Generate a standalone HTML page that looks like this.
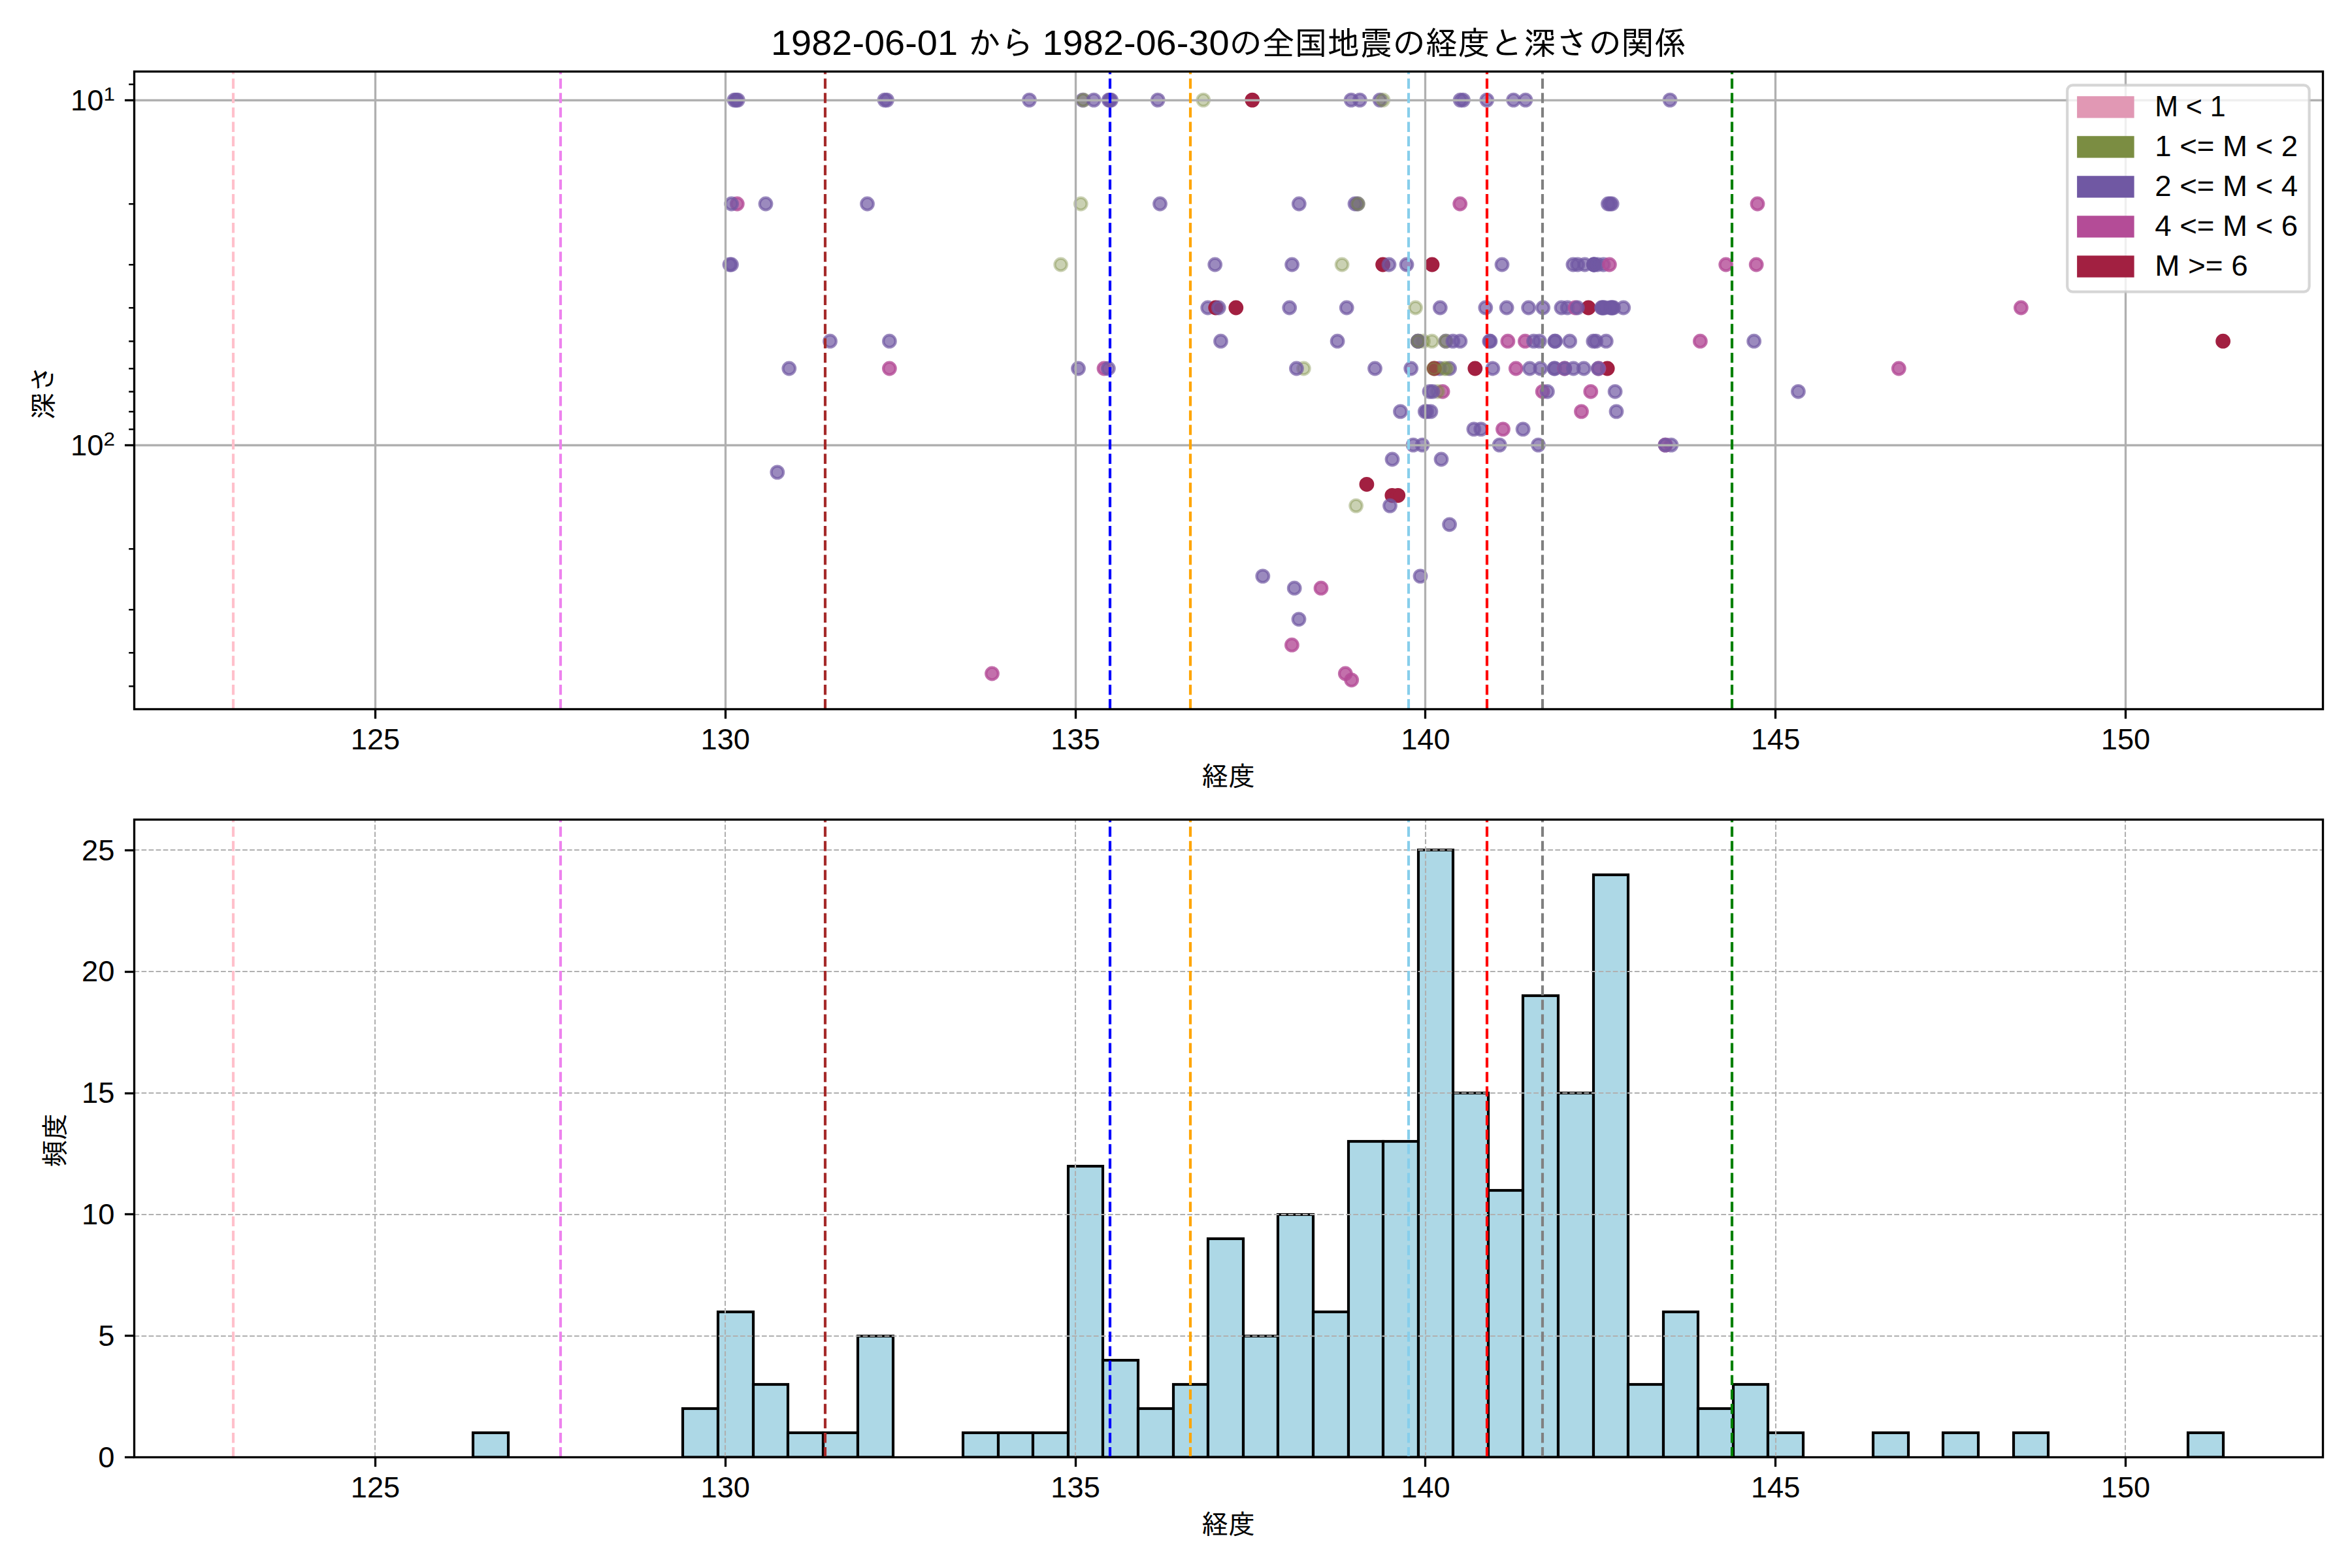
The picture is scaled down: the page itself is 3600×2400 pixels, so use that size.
<!DOCTYPE html>
<html lang="ja"><head><meta charset="utf-8"><title>全国地震の経度と深さの関係</title>
<style>html,body{margin:0;padding:0;background:#fff}svg{display:block}.l{font-family:"Liberation Sans","IPAGothic",sans-serif;fill:#000}.j{font-family:"Liberation Sans","IPAGothic","Noto Sans CJK JP",sans-serif;fill:#000}</style></head><body>
<svg width="3600" height="2400" viewBox="0 0 3600 2400">
<rect width="3600" height="2400" fill="#fff"/>
<clipPath id="c1"><rect x="205.5" y="109.5" width="3350.0" height="976.0"/></clipPath>
<clipPath id="c2"><rect x="205.5" y="1254.5" width="3350.0" height="976.0"/></clipPath>
<g clip-path="url(#c1)">
<g stroke-width="4.17">
<circle cx="1124.0" cy="153.1" r="9.32" fill="#7058a3" stroke="#7058a3" fill-opacity="0.7" stroke-opacity="0.7"/>
<circle cx="1126.7" cy="153.1" r="9.32" fill="#7058a3" stroke="#7058a3" fill-opacity="0.7" stroke-opacity="0.7"/>
<circle cx="1129.3" cy="153.1" r="9.32" fill="#7058a3" stroke="#7058a3" fill-opacity="0.7" stroke-opacity="0.7"/>
<circle cx="1354.0" cy="153.1" r="9.32" fill="#7058a3" stroke="#7058a3" fill-opacity="0.7" stroke-opacity="0.7"/>
<circle cx="1357.5" cy="153.1" r="9.32" fill="#7058a3" stroke="#7058a3" fill-opacity="0.7" stroke-opacity="0.7"/>
<circle cx="1575.5" cy="153.1" r="9.32" fill="#7058a3" stroke="#7058a3" fill-opacity="0.7" stroke-opacity="0.7"/>
<circle cx="1657.3" cy="153.1" r="9.32" fill="#7058a3" stroke="#7058a3" fill-opacity="0.7" stroke-opacity="0.7"/>
<circle cx="1658.6" cy="153.1" r="9.32" fill="#7b8d42" stroke="#7b8d42" fill-opacity="0.4" stroke-opacity="0.4"/>
<circle cx="1674.2" cy="153.1" r="9.32" fill="#7058a3" stroke="#7058a3" fill-opacity="0.7" stroke-opacity="0.7"/>
<circle cx="1697.2" cy="153.1" r="9.32" fill="#7058a3" stroke="#7058a3" fill-opacity="0.7" stroke-opacity="0.7"/>
<circle cx="1698.8" cy="153.1" r="9.32" fill="#7058a3" stroke="#7058a3" fill-opacity="0.7" stroke-opacity="0.7"/>
<circle cx="1700.6" cy="153.1" r="9.32" fill="#7058a3" stroke="#7058a3" fill-opacity="0.7" stroke-opacity="0.7"/>
<circle cx="1772.2" cy="153.1" r="9.32" fill="#7058a3" stroke="#7058a3" fill-opacity="0.7" stroke-opacity="0.7"/>
<circle cx="1841.8" cy="153.1" r="9.32" fill="#7b8d42" stroke="#7b8d42" fill-opacity="0.4" stroke-opacity="0.4"/>
<circle cx="1916.8" cy="153.1" r="9.32" fill="#a22041" stroke="#a22041" fill-opacity="1.0" stroke-opacity="1.0"/>
<circle cx="2068.1" cy="153.1" r="9.32" fill="#7058a3" stroke="#7058a3" fill-opacity="0.7" stroke-opacity="0.7"/>
<circle cx="2081.4" cy="153.1" r="9.32" fill="#7058a3" stroke="#7058a3" fill-opacity="0.7" stroke-opacity="0.7"/>
<circle cx="2112.1" cy="153.1" r="9.32" fill="#7058a3" stroke="#7058a3" fill-opacity="0.7" stroke-opacity="0.7"/>
<circle cx="2116.9" cy="153.1" r="9.32" fill="#7b8d42" stroke="#7b8d42" fill-opacity="0.4" stroke-opacity="0.4"/>
<circle cx="2235.1" cy="153.1" r="9.32" fill="#7058a3" stroke="#7058a3" fill-opacity="0.7" stroke-opacity="0.7"/>
<circle cx="2239.5" cy="153.1" r="9.32" fill="#7058a3" stroke="#7058a3" fill-opacity="0.7" stroke-opacity="0.7"/>
<circle cx="2275.8" cy="153.1" r="9.32" fill="#7058a3" stroke="#7058a3" fill-opacity="0.7" stroke-opacity="0.7"/>
<circle cx="2316.6" cy="153.1" r="9.32" fill="#7058a3" stroke="#7058a3" fill-opacity="0.7" stroke-opacity="0.7"/>
<circle cx="2335.0" cy="153.1" r="9.32" fill="#7058a3" stroke="#7058a3" fill-opacity="0.7" stroke-opacity="0.7"/>
<circle cx="2556.1" cy="153.1" r="9.32" fill="#7058a3" stroke="#7058a3" fill-opacity="0.7" stroke-opacity="0.7"/>
<circle cx="1128.3" cy="312.0" r="9.32" fill="#b44c97" stroke="#b44c97" fill-opacity="0.8" stroke-opacity="0.8"/>
<circle cx="1119.6" cy="312.0" r="9.32" fill="#7058a3" stroke="#7058a3" fill-opacity="0.7" stroke-opacity="0.7"/>
<circle cx="1172.0" cy="312.0" r="9.32" fill="#7058a3" stroke="#7058a3" fill-opacity="0.7" stroke-opacity="0.7"/>
<circle cx="1327.5" cy="312.0" r="9.32" fill="#7058a3" stroke="#7058a3" fill-opacity="0.7" stroke-opacity="0.7"/>
<circle cx="1654.3" cy="312.0" r="9.32" fill="#7b8d42" stroke="#7b8d42" fill-opacity="0.4" stroke-opacity="0.4"/>
<circle cx="1775.5" cy="312.0" r="9.32" fill="#7058a3" stroke="#7058a3" fill-opacity="0.7" stroke-opacity="0.7"/>
<circle cx="1988.3" cy="312.0" r="9.32" fill="#7058a3" stroke="#7058a3" fill-opacity="0.7" stroke-opacity="0.7"/>
<circle cx="2074.0" cy="312.0" r="9.32" fill="#7058a3" stroke="#7058a3" fill-opacity="0.7" stroke-opacity="0.7"/>
<circle cx="2078.0" cy="312.0" r="9.32" fill="#7058a3" stroke="#7058a3" fill-opacity="0.7" stroke-opacity="0.7"/>
<circle cx="2078.5" cy="312.0" r="9.32" fill="#7b8d42" stroke="#7b8d42" fill-opacity="0.4" stroke-opacity="0.4"/>
<circle cx="2234.7" cy="312.0" r="9.32" fill="#b44c97" stroke="#b44c97" fill-opacity="0.8" stroke-opacity="0.8"/>
<circle cx="2461.4" cy="312.0" r="9.32" fill="#7058a3" stroke="#7058a3" fill-opacity="0.7" stroke-opacity="0.7"/>
<circle cx="2464.3" cy="312.0" r="9.32" fill="#7058a3" stroke="#7058a3" fill-opacity="0.7" stroke-opacity="0.7"/>
<circle cx="2467.2" cy="312.0" r="9.32" fill="#7058a3" stroke="#7058a3" fill-opacity="0.7" stroke-opacity="0.7"/>
<circle cx="2690.0" cy="312.0" r="9.32" fill="#b44c97" stroke="#b44c97" fill-opacity="0.8" stroke-opacity="0.8"/>
<circle cx="1117.0" cy="405.0" r="9.32" fill="#7058a3" stroke="#7058a3" fill-opacity="0.7" stroke-opacity="0.7"/>
<circle cx="1119.5" cy="405.0" r="9.32" fill="#7058a3" stroke="#7058a3" fill-opacity="0.7" stroke-opacity="0.7"/>
<circle cx="1623.7" cy="405.0" r="9.32" fill="#7b8d42" stroke="#7b8d42" fill-opacity="0.4" stroke-opacity="0.4"/>
<circle cx="1859.7" cy="405.0" r="9.32" fill="#7058a3" stroke="#7058a3" fill-opacity="0.7" stroke-opacity="0.7"/>
<circle cx="1977.6" cy="405.0" r="9.32" fill="#7058a3" stroke="#7058a3" fill-opacity="0.7" stroke-opacity="0.7"/>
<circle cx="2054.1" cy="405.0" r="9.32" fill="#7b8d42" stroke="#7b8d42" fill-opacity="0.4" stroke-opacity="0.4"/>
<circle cx="2116.6" cy="405.0" r="9.32" fill="#a22041" stroke="#a22041" fill-opacity="1.0" stroke-opacity="1.0"/>
<circle cx="2126.0" cy="405.0" r="9.32" fill="#7058a3" stroke="#7058a3" fill-opacity="0.7" stroke-opacity="0.7"/>
<circle cx="2153.0" cy="405.0" r="9.32" fill="#7058a3" stroke="#7058a3" fill-opacity="0.7" stroke-opacity="0.7"/>
<circle cx="2192.0" cy="405.0" r="9.32" fill="#a22041" stroke="#a22041" fill-opacity="1.0" stroke-opacity="1.0"/>
<circle cx="2299.0" cy="405.0" r="9.32" fill="#7058a3" stroke="#7058a3" fill-opacity="0.7" stroke-opacity="0.7"/>
<circle cx="2407.9" cy="405.0" r="9.32" fill="#7058a3" stroke="#7058a3" fill-opacity="0.7" stroke-opacity="0.7"/>
<circle cx="2414.8" cy="405.0" r="9.32" fill="#7058a3" stroke="#7058a3" fill-opacity="0.7" stroke-opacity="0.7"/>
<circle cx="2425.7" cy="405.0" r="9.32" fill="#7058a3" stroke="#7058a3" fill-opacity="0.7" stroke-opacity="0.7"/>
<circle cx="2439.2" cy="405.0" r="9.32" fill="#7058a3" stroke="#7058a3" fill-opacity="0.7" stroke-opacity="0.7"/>
<circle cx="2439.7" cy="405.0" r="9.32" fill="#7058a3" stroke="#7058a3" fill-opacity="0.7" stroke-opacity="0.7"/>
<circle cx="2440.2" cy="405.0" r="9.32" fill="#7058a3" stroke="#7058a3" fill-opacity="0.7" stroke-opacity="0.7"/>
<circle cx="2439.7" cy="405.0" r="9.32" fill="#7058a3" stroke="#7058a3" fill-opacity="0.7" stroke-opacity="0.7"/>
<circle cx="2445.0" cy="405.0" r="9.32" fill="#7058a3" stroke="#7058a3" fill-opacity="0.7" stroke-opacity="0.7"/>
<circle cx="2454.2" cy="405.0" r="9.32" fill="#7058a3" stroke="#7058a3" fill-opacity="0.7" stroke-opacity="0.7"/>
<circle cx="2463.4" cy="405.0" r="9.32" fill="#b44c97" stroke="#b44c97" fill-opacity="0.8" stroke-opacity="0.8"/>
<circle cx="2641.7" cy="405.0" r="9.32" fill="#b44c97" stroke="#b44c97" fill-opacity="0.8" stroke-opacity="0.8"/>
<circle cx="2688.2" cy="405.0" r="9.32" fill="#b44c97" stroke="#b44c97" fill-opacity="0.8" stroke-opacity="0.8"/>
<circle cx="1848.7" cy="471.0" r="9.32" fill="#7058a3" stroke="#7058a3" fill-opacity="0.7" stroke-opacity="0.7"/>
<circle cx="1860.7" cy="471.0" r="9.32" fill="#a22041" stroke="#a22041" fill-opacity="1.0" stroke-opacity="1.0"/>
<circle cx="1865.3" cy="471.0" r="9.32" fill="#7058a3" stroke="#7058a3" fill-opacity="0.7" stroke-opacity="0.7"/>
<circle cx="1891.8" cy="471.0" r="9.32" fill="#a22041" stroke="#a22041" fill-opacity="1.0" stroke-opacity="1.0"/>
<circle cx="1973.7" cy="471.0" r="9.32" fill="#7058a3" stroke="#7058a3" fill-opacity="0.7" stroke-opacity="0.7"/>
<circle cx="2061.2" cy="471.0" r="9.32" fill="#7058a3" stroke="#7058a3" fill-opacity="0.7" stroke-opacity="0.7"/>
<circle cx="2166.6" cy="471.0" r="9.32" fill="#7b8d42" stroke="#7b8d42" fill-opacity="0.4" stroke-opacity="0.4"/>
<circle cx="2204.3" cy="471.0" r="9.32" fill="#7058a3" stroke="#7058a3" fill-opacity="0.7" stroke-opacity="0.7"/>
<circle cx="2273.8" cy="471.0" r="9.32" fill="#7058a3" stroke="#7058a3" fill-opacity="0.7" stroke-opacity="0.7"/>
<circle cx="2306.1" cy="471.0" r="9.32" fill="#7058a3" stroke="#7058a3" fill-opacity="0.7" stroke-opacity="0.7"/>
<circle cx="2339.6" cy="471.0" r="9.32" fill="#7058a3" stroke="#7058a3" fill-opacity="0.7" stroke-opacity="0.7"/>
<circle cx="2361.7" cy="471.0" r="9.32" fill="#7058a3" stroke="#7058a3" fill-opacity="0.7" stroke-opacity="0.7"/>
<circle cx="2431.2" cy="471.0" r="9.32" fill="#a22041" stroke="#a22041" fill-opacity="1.0" stroke-opacity="1.0"/>
<circle cx="2389.9" cy="471.0" r="9.32" fill="#7058a3" stroke="#7058a3" fill-opacity="0.7" stroke-opacity="0.7"/>
<circle cx="2399.1" cy="471.0" r="9.32" fill="#7058a3" stroke="#7058a3" fill-opacity="0.7" stroke-opacity="0.7"/>
<circle cx="2411.0" cy="471.0" r="9.32" fill="#b44c97" stroke="#b44c97" fill-opacity="0.8" stroke-opacity="0.8"/>
<circle cx="2414.4" cy="471.0" r="9.32" fill="#7058a3" stroke="#7058a3" fill-opacity="0.7" stroke-opacity="0.7"/>
<circle cx="2451.4" cy="471.0" r="9.32" fill="#7058a3" stroke="#7058a3" fill-opacity="0.7" stroke-opacity="0.7"/>
<circle cx="2452.5" cy="471.0" r="9.32" fill="#7058a3" stroke="#7058a3" fill-opacity="0.7" stroke-opacity="0.7"/>
<circle cx="2454.0" cy="471.0" r="9.32" fill="#7058a3" stroke="#7058a3" fill-opacity="0.7" stroke-opacity="0.7"/>
<circle cx="2456.0" cy="471.0" r="9.32" fill="#7058a3" stroke="#7058a3" fill-opacity="0.7" stroke-opacity="0.7"/>
<circle cx="2465.0" cy="471.0" r="9.32" fill="#7058a3" stroke="#7058a3" fill-opacity="0.7" stroke-opacity="0.7"/>
<circle cx="2466.5" cy="471.0" r="9.32" fill="#7058a3" stroke="#7058a3" fill-opacity="0.7" stroke-opacity="0.7"/>
<circle cx="2468.0" cy="471.0" r="9.32" fill="#7058a3" stroke="#7058a3" fill-opacity="0.7" stroke-opacity="0.7"/>
<circle cx="2469.6" cy="471.0" r="9.32" fill="#7058a3" stroke="#7058a3" fill-opacity="0.7" stroke-opacity="0.7"/>
<circle cx="2484.8" cy="471.0" r="9.32" fill="#7058a3" stroke="#7058a3" fill-opacity="0.7" stroke-opacity="0.7"/>
<circle cx="3093.4" cy="471.0" r="9.32" fill="#b44c97" stroke="#b44c97" fill-opacity="0.8" stroke-opacity="0.8"/>
<circle cx="1270.5" cy="522.2" r="9.32" fill="#7058a3" stroke="#7058a3" fill-opacity="0.7" stroke-opacity="0.7"/>
<circle cx="1361.4" cy="522.2" r="9.32" fill="#7058a3" stroke="#7058a3" fill-opacity="0.7" stroke-opacity="0.7"/>
<circle cx="1868.5" cy="522.2" r="9.32" fill="#7058a3" stroke="#7058a3" fill-opacity="0.7" stroke-opacity="0.7"/>
<circle cx="2047.1" cy="522.2" r="9.32" fill="#7058a3" stroke="#7058a3" fill-opacity="0.7" stroke-opacity="0.7"/>
<circle cx="2178.5" cy="522.2" r="9.32" fill="#7b8d42" stroke="#7b8d42" fill-opacity="0.4" stroke-opacity="0.4"/>
<circle cx="2170.4" cy="522.2" r="9.32" fill="#7058a3" stroke="#7058a3" fill-opacity="0.7" stroke-opacity="0.7"/>
<circle cx="2170.4" cy="522.2" r="9.32" fill="#7058a3" stroke="#7058a3" fill-opacity="0.7" stroke-opacity="0.7"/>
<circle cx="2170.4" cy="522.2" r="9.32" fill="#7b8d42" stroke="#7b8d42" fill-opacity="0.4" stroke-opacity="0.4"/>
<circle cx="2191.8" cy="522.2" r="9.32" fill="#7b8d42" stroke="#7b8d42" fill-opacity="0.4" stroke-opacity="0.4"/>
<circle cx="2213.0" cy="522.2" r="9.32" fill="#7058a3" stroke="#7058a3" fill-opacity="0.7" stroke-opacity="0.7"/>
<circle cx="2213.0" cy="522.2" r="9.32" fill="#7b8d42" stroke="#7b8d42" fill-opacity="0.4" stroke-opacity="0.4"/>
<circle cx="2223.9" cy="522.2" r="9.32" fill="#7058a3" stroke="#7058a3" fill-opacity="0.7" stroke-opacity="0.7"/>
<circle cx="2234.9" cy="522.2" r="9.32" fill="#7058a3" stroke="#7058a3" fill-opacity="0.7" stroke-opacity="0.7"/>
<circle cx="2279.8" cy="522.2" r="9.32" fill="#7058a3" stroke="#7058a3" fill-opacity="0.7" stroke-opacity="0.7"/>
<circle cx="2281.0" cy="522.2" r="9.32" fill="#7058a3" stroke="#7058a3" fill-opacity="0.7" stroke-opacity="0.7"/>
<circle cx="2307.9" cy="522.2" r="9.32" fill="#b44c97" stroke="#b44c97" fill-opacity="0.8" stroke-opacity="0.8"/>
<circle cx="2334.4" cy="522.2" r="9.32" fill="#b44c97" stroke="#b44c97" fill-opacity="0.8" stroke-opacity="0.8"/>
<circle cx="2347.5" cy="522.2" r="9.32" fill="#7058a3" stroke="#7058a3" fill-opacity="0.7" stroke-opacity="0.7"/>
<circle cx="2356.4" cy="522.2" r="9.32" fill="#7058a3" stroke="#7058a3" fill-opacity="0.7" stroke-opacity="0.7"/>
<circle cx="2379.8" cy="522.2" r="9.32" fill="#7058a3" stroke="#7058a3" fill-opacity="0.7" stroke-opacity="0.7"/>
<circle cx="2380.6" cy="522.2" r="9.32" fill="#7058a3" stroke="#7058a3" fill-opacity="0.7" stroke-opacity="0.7"/>
<circle cx="2402.7" cy="522.2" r="9.32" fill="#7058a3" stroke="#7058a3" fill-opacity="0.7" stroke-opacity="0.7"/>
<circle cx="2438.8" cy="522.2" r="9.32" fill="#7058a3" stroke="#7058a3" fill-opacity="0.7" stroke-opacity="0.7"/>
<circle cx="2442.8" cy="522.2" r="9.32" fill="#7058a3" stroke="#7058a3" fill-opacity="0.7" stroke-opacity="0.7"/>
<circle cx="2458.3" cy="522.2" r="9.32" fill="#7058a3" stroke="#7058a3" fill-opacity="0.7" stroke-opacity="0.7"/>
<circle cx="2602.4" cy="522.2" r="9.32" fill="#b44c97" stroke="#b44c97" fill-opacity="0.8" stroke-opacity="0.8"/>
<circle cx="2684.7" cy="522.2" r="9.32" fill="#7058a3" stroke="#7058a3" fill-opacity="0.7" stroke-opacity="0.7"/>
<circle cx="3402.6" cy="522.2" r="9.32" fill="#a22041" stroke="#a22041" fill-opacity="1.0" stroke-opacity="1.0"/>
<circle cx="1207.8" cy="564.0" r="9.32" fill="#7058a3" stroke="#7058a3" fill-opacity="0.7" stroke-opacity="0.7"/>
<circle cx="1361.4" cy="564.0" r="9.32" fill="#b44c97" stroke="#b44c97" fill-opacity="0.8" stroke-opacity="0.8"/>
<circle cx="1650.5" cy="564.0" r="9.32" fill="#7058a3" stroke="#7058a3" fill-opacity="0.7" stroke-opacity="0.7"/>
<circle cx="1690.0" cy="564.0" r="9.32" fill="#b44c97" stroke="#b44c97" fill-opacity="0.8" stroke-opacity="0.8"/>
<circle cx="1696.4" cy="564.0" r="9.32" fill="#7058a3" stroke="#7058a3" fill-opacity="0.7" stroke-opacity="0.7"/>
<circle cx="1995.4" cy="564.0" r="9.32" fill="#7b8d42" stroke="#7b8d42" fill-opacity="0.4" stroke-opacity="0.4"/>
<circle cx="1984.4" cy="564.0" r="9.32" fill="#7058a3" stroke="#7058a3" fill-opacity="0.7" stroke-opacity="0.7"/>
<circle cx="2104.5" cy="564.0" r="9.32" fill="#7058a3" stroke="#7058a3" fill-opacity="0.7" stroke-opacity="0.7"/>
<circle cx="2159.7" cy="564.0" r="9.32" fill="#7058a3" stroke="#7058a3" fill-opacity="0.7" stroke-opacity="0.7"/>
<circle cx="2203.3" cy="564.0" r="9.32" fill="#7058a3" stroke="#7058a3" fill-opacity="0.7" stroke-opacity="0.7"/>
<circle cx="2195.4" cy="564.0" r="9.32" fill="#a22041" stroke="#a22041" fill-opacity="1.0" stroke-opacity="1.0"/>
<circle cx="2194.3" cy="564.0" r="9.32" fill="#7b8d42" stroke="#7b8d42" fill-opacity="0.4" stroke-opacity="0.4"/>
<circle cx="2218.6" cy="564.0" r="9.32" fill="#7058a3" stroke="#7058a3" fill-opacity="0.7" stroke-opacity="0.7"/>
<circle cx="2210.5" cy="564.0" r="9.32" fill="#7b8d42" stroke="#7b8d42" fill-opacity="0.4" stroke-opacity="0.4"/>
<circle cx="2214.0" cy="564.0" r="9.32" fill="#7b8d42" stroke="#7b8d42" fill-opacity="0.4" stroke-opacity="0.4"/>
<circle cx="2257.8" cy="564.0" r="9.32" fill="#a22041" stroke="#a22041" fill-opacity="1.0" stroke-opacity="1.0"/>
<circle cx="2284.8" cy="564.0" r="9.32" fill="#7058a3" stroke="#7058a3" fill-opacity="0.7" stroke-opacity="0.7"/>
<circle cx="2320.3" cy="564.0" r="9.32" fill="#b44c97" stroke="#b44c97" fill-opacity="0.8" stroke-opacity="0.8"/>
<circle cx="2341.4" cy="564.0" r="9.32" fill="#7058a3" stroke="#7058a3" fill-opacity="0.7" stroke-opacity="0.7"/>
<circle cx="2357.8" cy="564.0" r="9.32" fill="#7058a3" stroke="#7058a3" fill-opacity="0.7" stroke-opacity="0.7"/>
<circle cx="2378.8" cy="564.0" r="9.32" fill="#7058a3" stroke="#7058a3" fill-opacity="0.7" stroke-opacity="0.7"/>
<circle cx="2379.8" cy="564.0" r="9.32" fill="#7058a3" stroke="#7058a3" fill-opacity="0.7" stroke-opacity="0.7"/>
<circle cx="2394.7" cy="564.0" r="9.32" fill="#b44c97" stroke="#b44c97" fill-opacity="0.8" stroke-opacity="0.8"/>
<circle cx="2394.9" cy="564.0" r="9.32" fill="#7058a3" stroke="#7058a3" fill-opacity="0.7" stroke-opacity="0.7"/>
<circle cx="2408.3" cy="564.0" r="9.32" fill="#7058a3" stroke="#7058a3" fill-opacity="0.7" stroke-opacity="0.7"/>
<circle cx="2424.2" cy="564.0" r="9.32" fill="#7058a3" stroke="#7058a3" fill-opacity="0.7" stroke-opacity="0.7"/>
<circle cx="2460.2" cy="564.0" r="9.32" fill="#a22041" stroke="#a22041" fill-opacity="1.0" stroke-opacity="1.0"/>
<circle cx="2447.0" cy="564.0" r="9.32" fill="#b44c97" stroke="#b44c97" fill-opacity="0.8" stroke-opacity="0.8"/>
<circle cx="2446.2" cy="564.0" r="9.32" fill="#7058a3" stroke="#7058a3" fill-opacity="0.7" stroke-opacity="0.7"/>
<circle cx="2906.3" cy="564.0" r="9.32" fill="#b44c97" stroke="#b44c97" fill-opacity="0.8" stroke-opacity="0.8"/>
<circle cx="2208.1" cy="599.3" r="9.32" fill="#b44c97" stroke="#b44c97" fill-opacity="0.8" stroke-opacity="0.8"/>
<circle cx="2200.4" cy="599.3" r="9.32" fill="#7b8d42" stroke="#7b8d42" fill-opacity="0.4" stroke-opacity="0.4"/>
<circle cx="2192.8" cy="599.3" r="9.32" fill="#7058a3" stroke="#7058a3" fill-opacity="0.7" stroke-opacity="0.7"/>
<circle cx="2188.0" cy="599.3" r="9.32" fill="#7058a3" stroke="#7058a3" fill-opacity="0.7" stroke-opacity="0.7"/>
<circle cx="2361.2" cy="599.3" r="9.32" fill="#b44c97" stroke="#b44c97" fill-opacity="0.8" stroke-opacity="0.8"/>
<circle cx="2368.4" cy="599.3" r="9.32" fill="#7058a3" stroke="#7058a3" fill-opacity="0.7" stroke-opacity="0.7"/>
<circle cx="2434.8" cy="599.3" r="9.32" fill="#b44c97" stroke="#b44c97" fill-opacity="0.8" stroke-opacity="0.8"/>
<circle cx="2472.1" cy="599.3" r="9.32" fill="#7058a3" stroke="#7058a3" fill-opacity="0.7" stroke-opacity="0.7"/>
<circle cx="2752.4" cy="599.3" r="9.32" fill="#7058a3" stroke="#7058a3" fill-opacity="0.7" stroke-opacity="0.7"/>
<circle cx="2143.5" cy="629.9" r="9.32" fill="#7058a3" stroke="#7058a3" fill-opacity="0.7" stroke-opacity="0.7"/>
<circle cx="2181.3" cy="629.9" r="9.32" fill="#7058a3" stroke="#7058a3" fill-opacity="0.7" stroke-opacity="0.7"/>
<circle cx="2184.2" cy="629.9" r="9.32" fill="#7058a3" stroke="#7058a3" fill-opacity="0.7" stroke-opacity="0.7"/>
<circle cx="2189.9" cy="629.9" r="9.32" fill="#7058a3" stroke="#7058a3" fill-opacity="0.7" stroke-opacity="0.7"/>
<circle cx="2420.5" cy="629.9" r="9.32" fill="#b44c97" stroke="#b44c97" fill-opacity="0.8" stroke-opacity="0.8"/>
<circle cx="2474.0" cy="629.9" r="9.32" fill="#7058a3" stroke="#7058a3" fill-opacity="0.7" stroke-opacity="0.7"/>
<circle cx="2255.9" cy="656.9" r="9.32" fill="#7058a3" stroke="#7058a3" fill-opacity="0.7" stroke-opacity="0.7"/>
<circle cx="2266.8" cy="656.9" r="9.32" fill="#7058a3" stroke="#7058a3" fill-opacity="0.7" stroke-opacity="0.7"/>
<circle cx="2300.5" cy="656.9" r="9.32" fill="#b44c97" stroke="#b44c97" fill-opacity="0.8" stroke-opacity="0.8"/>
<circle cx="2331.1" cy="656.9" r="9.32" fill="#7058a3" stroke="#7058a3" fill-opacity="0.7" stroke-opacity="0.7"/>
<circle cx="2163.1" cy="681.1" r="9.32" fill="#7058a3" stroke="#7058a3" fill-opacity="0.7" stroke-opacity="0.7"/>
<circle cx="2177.1" cy="681.1" r="9.32" fill="#7058a3" stroke="#7058a3" fill-opacity="0.7" stroke-opacity="0.7"/>
<circle cx="2295.2" cy="681.1" r="9.32" fill="#7058a3" stroke="#7058a3" fill-opacity="0.7" stroke-opacity="0.7"/>
<circle cx="2354.5" cy="681.1" r="9.32" fill="#7058a3" stroke="#7058a3" fill-opacity="0.7" stroke-opacity="0.7"/>
<circle cx="2558.0" cy="681.1" r="9.32" fill="#7058a3" stroke="#7058a3" fill-opacity="0.7" stroke-opacity="0.7"/>
<circle cx="2549.0" cy="681.1" r="9.32" fill="#b44c97" stroke="#b44c97" fill-opacity="0.8" stroke-opacity="0.8"/>
<circle cx="2549.0" cy="681.1" r="9.32" fill="#7058a3" stroke="#7058a3" fill-opacity="0.7" stroke-opacity="0.7"/>
<circle cx="2131.0" cy="703.0" r="9.32" fill="#7058a3" stroke="#7058a3" fill-opacity="0.7" stroke-opacity="0.7"/>
<circle cx="2206.0" cy="703.0" r="9.32" fill="#7058a3" stroke="#7058a3" fill-opacity="0.7" stroke-opacity="0.7"/>
<circle cx="1189.8" cy="722.9" r="9.32" fill="#7058a3" stroke="#7058a3" fill-opacity="0.7" stroke-opacity="0.7"/>
<circle cx="2091.9" cy="741.3" r="9.32" fill="#a22041" stroke="#a22041" fill-opacity="1.0" stroke-opacity="1.0"/>
<circle cx="2130.8" cy="758.3" r="9.32" fill="#a22041" stroke="#a22041" fill-opacity="1.0" stroke-opacity="1.0"/>
<circle cx="2139.8" cy="758.3" r="9.32" fill="#a22041" stroke="#a22041" fill-opacity="1.0" stroke-opacity="1.0"/>
<circle cx="2075.6" cy="774.1" r="9.32" fill="#7b8d42" stroke="#7b8d42" fill-opacity="0.4" stroke-opacity="0.4"/>
<circle cx="2127.5" cy="774.1" r="9.32" fill="#7058a3" stroke="#7058a3" fill-opacity="0.7" stroke-opacity="0.7"/>
<circle cx="2218.6" cy="802.8" r="9.32" fill="#7058a3" stroke="#7058a3" fill-opacity="0.7" stroke-opacity="0.7"/>
<circle cx="1932.8" cy="881.9" r="9.32" fill="#7058a3" stroke="#7058a3" fill-opacity="0.7" stroke-opacity="0.7"/>
<circle cx="2174.0" cy="881.9" r="9.32" fill="#7058a3" stroke="#7058a3" fill-opacity="0.7" stroke-opacity="0.7"/>
<circle cx="1981.2" cy="900.2" r="9.32" fill="#7058a3" stroke="#7058a3" fill-opacity="0.7" stroke-opacity="0.7"/>
<circle cx="2022.0" cy="900.2" r="9.32" fill="#b44c97" stroke="#b44c97" fill-opacity="0.8" stroke-opacity="0.8"/>
<circle cx="1988.0" cy="947.8" r="9.32" fill="#7058a3" stroke="#7058a3" fill-opacity="0.7" stroke-opacity="0.7"/>
<circle cx="1977.4" cy="987.2" r="9.32" fill="#b44c97" stroke="#b44c97" fill-opacity="0.8" stroke-opacity="0.8"/>
<circle cx="2059.3" cy="1031.0" r="9.32" fill="#b44c97" stroke="#b44c97" fill-opacity="0.8" stroke-opacity="0.8"/>
<circle cx="1518.5" cy="1031.0" r="9.32" fill="#b44c97" stroke="#b44c97" fill-opacity="0.8" stroke-opacity="0.8"/>
<circle cx="2068.7" cy="1040.8" r="9.32" fill="#b44c97" stroke="#b44c97" fill-opacity="0.8" stroke-opacity="0.8"/>
</g>
<g stroke="#b0b0b0" stroke-width="3.33">
<line x1="574.5" y1="109.5" x2="574.5" y2="1085.5"/>
<line x1="1110.5" y1="109.5" x2="1110.5" y2="1085.5"/>
<line x1="1646.5" y1="109.5" x2="1646.5" y2="1085.5"/>
<line x1="2181.5" y1="109.5" x2="2181.5" y2="1085.5"/>
<line x1="2717.5" y1="109.5" x2="2717.5" y2="1085.5"/>
<line x1="3253.5" y1="109.5" x2="3253.5" y2="1085.5"/>
<line x1="205.5" y1="153.5" x2="3555.5" y2="153.5"/>
<line x1="205.5" y1="681.5" x2="3555.5" y2="681.5"/>
</g>
<g stroke-width="4.17" stroke-dasharray="15.42 6.67">
<line x1="357.0" y1="1085.5" x2="357.0" y2="109.5" stroke="#ffc0cb"/>
<line x1="858.0" y1="1085.5" x2="858.0" y2="109.5" stroke="#ee82ee"/>
<line x1="1263.0" y1="1085.5" x2="1263.0" y2="109.5" stroke="#a52a2a"/>
<line x1="1699.0" y1="1085.5" x2="1699.0" y2="109.5" stroke="#0000ff"/>
<line x1="1822.0" y1="1085.5" x2="1822.0" y2="109.5" stroke="#ffa500"/>
<line x1="2156.0" y1="1085.5" x2="2156.0" y2="109.5" stroke="#87ceeb"/>
<line x1="2276.0" y1="1085.5" x2="2276.0" y2="109.5" stroke="#ff0000"/>
<line x1="2361.0" y1="1085.5" x2="2361.0" y2="109.5" stroke="#808080"/>
<line x1="2651.0" y1="1085.5" x2="2651.0" y2="109.5" stroke="#008000"/>
</g>
</g>
<rect x="205.5" y="109.5" width="3350.0" height="976.0" fill="none" stroke="#000" stroke-width="3.33"/>
<g stroke="#000" stroke-width="3.33">
<line x1="574.5" y1="1085.5" x2="574.5" y2="1100.08"/>
<line x1="1110.5" y1="1085.5" x2="1110.5" y2="1100.08"/>
<line x1="1646.5" y1="1085.5" x2="1646.5" y2="1100.08"/>
<line x1="2181.5" y1="1085.5" x2="2181.5" y2="1100.08"/>
<line x1="2717.5" y1="1085.5" x2="2717.5" y2="1100.08"/>
<line x1="3253.5" y1="1085.5" x2="3253.5" y2="1100.08"/>
<line x1="205.5" y1="153.5" x2="190.92" y2="153.5"/>
<line x1="205.5" y1="681.5" x2="190.92" y2="681.5"/>
</g>
<g stroke="#000" stroke-width="2.5">
<line x1="205.5" y1="129.1" x2="197.17" y2="129.1"/>
<line x1="205.5" y1="312.2" x2="197.17" y2="312.2"/>
<line x1="205.5" y1="405.2" x2="197.17" y2="405.2"/>
<line x1="205.5" y1="471.2" x2="197.17" y2="471.2"/>
<line x1="205.5" y1="522.4" x2="197.17" y2="522.4"/>
<line x1="205.5" y1="564.2" x2="197.17" y2="564.2"/>
<line x1="205.5" y1="599.5" x2="197.17" y2="599.5"/>
<line x1="205.5" y1="630.1" x2="197.17" y2="630.1"/>
<line x1="205.5" y1="657.1" x2="197.17" y2="657.1"/>
<line x1="205.5" y1="840.2" x2="197.17" y2="840.2"/>
<line x1="205.5" y1="933.2" x2="197.17" y2="933.2"/>
<line x1="205.5" y1="999.2" x2="197.17" y2="999.2"/>
<line x1="205.5" y1="1050.4" x2="197.17" y2="1050.4"/>
</g>
<text class="l" x="574.5" y="1146.9" font-size="45.2" text-anchor="middle" textLength="75.5" lengthAdjust="spacingAndGlyphs">125</text>
<text class="l" x="1110.3" y="1146.9" font-size="45.2" text-anchor="middle" textLength="75.5" lengthAdjust="spacingAndGlyphs">130</text>
<text class="l" x="1646.1" y="1146.9" font-size="45.2" text-anchor="middle" textLength="75.5" lengthAdjust="spacingAndGlyphs">135</text>
<text class="l" x="2181.9" y="1146.9" font-size="45.2" text-anchor="middle" textLength="75.5" lengthAdjust="spacingAndGlyphs">140</text>
<text class="l" x="2717.7" y="1146.9" font-size="45.2" text-anchor="middle" textLength="75.5" lengthAdjust="spacingAndGlyphs">145</text>
<text class="l" x="3253.5" y="1146.9" font-size="45.2" text-anchor="middle" textLength="75.5" lengthAdjust="spacingAndGlyphs">150</text>
<text class="l" x="108" y="169.0" font-size="45.2" textLength="50.5" lengthAdjust="spacingAndGlyphs">10</text>
<text class="l" x="158.5" y="153.6" font-size="29.9" textLength="17.5" lengthAdjust="spacingAndGlyphs">1</text>
<text class="l" x="108" y="697.0" font-size="45.2" textLength="50.5" lengthAdjust="spacingAndGlyphs">10</text>
<text class="l" x="158.5" y="681.6" font-size="29.9" textLength="17.5" lengthAdjust="spacingAndGlyphs">2</text>
<text class="j" x="1880.5" y="1202.5" font-size="41.67" text-anchor="middle">経度</text>
<text class="j" transform="translate(80.5,600.5) rotate(-90)" font-size="41.67" text-anchor="middle">深さ</text>
<text class="j" y="83.5" font-size="50"><tspan x="1180" font-size="54" textLength="286" lengthAdjust="spacingAndGlyphs">1982-06-01</tspan><tspan x="1481.5">から</tspan><tspan x="1595.5" font-size="54" textLength="286" lengthAdjust="spacingAndGlyphs">1982-06-30</tspan><tspan x="1881.5">の全国地震の経度と深さの関係</tspan></text>
<rect x="3164.2" y="130.4" width="370.4" height="316.2" rx="8.3" ry="8.3" fill="#fff" fill-opacity="0.8" stroke="#ccc" stroke-opacity="0.8" stroke-width="4.17"/>
<rect x="3181.2" y="149.32" width="83.33" height="29.17" fill="#e198b4" stroke="#e198b4" stroke-width="4.17"/>
<text class="l" x="3298.2" y="178.1" font-size="45.2" textLength="108.5" lengthAdjust="spacingAndGlyphs">M &lt; 1</text>
<rect x="3181.2" y="210.32" width="83.33" height="29.17" fill="#7b8d42" stroke="#7b8d42" stroke-width="4.17"/>
<text class="l" x="3298.2" y="239.1" font-size="45.2" textLength="219" lengthAdjust="spacingAndGlyphs">1 &lt;= M &lt; 2</text>
<rect x="3181.2" y="271.32" width="83.33" height="29.17" fill="#7058a3" stroke="#7058a3" stroke-width="4.17"/>
<text class="l" x="3298.2" y="300.1" font-size="45.2" textLength="219" lengthAdjust="spacingAndGlyphs">2 &lt;= M &lt; 4</text>
<rect x="3181.2" y="332.32" width="83.33" height="29.17" fill="#b44c97" stroke="#b44c97" stroke-width="4.17"/>
<text class="l" x="3298.2" y="361.1" font-size="45.2" textLength="219" lengthAdjust="spacingAndGlyphs">4 &lt;= M &lt; 6</text>
<rect x="3181.2" y="393.32" width="83.33" height="29.17" fill="#a22041" stroke="#a22041" stroke-width="4.17"/>
<text class="l" x="3298.2" y="422.1" font-size="45.2" textLength="142.5" lengthAdjust="spacingAndGlyphs">M &gt;= 6</text>
<g clip-path="url(#c2)">
<g fill="#add8e6" stroke="#000" stroke-width="4.17" stroke-linejoin="miter">
<rect x="724.0" y="2193.0" width="54.0" height="37.5"/>
<rect x="1045.0" y="2156.0" width="54.0" height="74.5"/>
<rect x="1099.0" y="2008.0" width="54.0" height="222.5"/>
<rect x="1153.0" y="2119.0" width="53.0" height="111.5"/>
<rect x="1206.0" y="2193.0" width="54.0" height="37.5"/>
<rect x="1260.0" y="2193.0" width="53.0" height="37.5"/>
<rect x="1313.0" y="2045.0" width="54.0" height="185.5"/>
<rect x="1474.0" y="2193.0" width="54.0" height="37.5"/>
<rect x="1528.0" y="2193.0" width="53.0" height="37.5"/>
<rect x="1581.0" y="2193.0" width="54.0" height="37.5"/>
<rect x="1635.0" y="1785.0" width="53.0" height="445.5"/>
<rect x="1688.0" y="2082.0" width="54.0" height="148.5"/>
<rect x="1742.0" y="2156.0" width="54.0" height="74.5"/>
<rect x="1796.0" y="2119.0" width="53.0" height="111.5"/>
<rect x="1849.0" y="1896.0" width="54.0" height="334.5"/>
<rect x="1903.0" y="2045.0" width="53.0" height="185.5"/>
<rect x="1956.0" y="1859.0" width="54.0" height="371.5"/>
<rect x="2010.0" y="2008.0" width="54.0" height="222.5"/>
<rect x="2064.0" y="1747.0" width="53.0" height="483.5"/>
<rect x="2117.0" y="1747.0" width="54.0" height="483.5"/>
<rect x="2171.0" y="1301.0" width="53.0" height="929.5"/>
<rect x="2224.0" y="1673.0" width="54.0" height="557.5"/>
<rect x="2278.0" y="1822.0" width="53.0" height="408.5"/>
<rect x="2331.0" y="1524.0" width="54.0" height="706.5"/>
<rect x="2385.0" y="1673.0" width="54.0" height="557.5"/>
<rect x="2439.0" y="1339.0" width="53.0" height="891.5"/>
<rect x="2492.0" y="2119.0" width="54.0" height="111.5"/>
<rect x="2546.0" y="2008.0" width="53.0" height="222.5"/>
<rect x="2599.0" y="2156.0" width="54.0" height="74.5"/>
<rect x="2653.0" y="2119.0" width="53.0" height="111.5"/>
<rect x="2706.0" y="2193.0" width="54.0" height="37.5"/>
<rect x="2867.0" y="2193.0" width="54.0" height="37.5"/>
<rect x="2974.0" y="2193.0" width="54.0" height="37.5"/>
<rect x="3082.0" y="2193.0" width="53.0" height="37.5"/>
<rect x="3349.0" y="2193.0" width="54.0" height="37.5"/>
</g>
<g stroke="#b0b0b0" stroke-width="2.08" stroke-dasharray="7.71 3.33">
<line x1="574.0" y1="2230.5" x2="574.0" y2="1254.5"/>
<line x1="1110.0" y1="2230.5" x2="1110.0" y2="1254.5"/>
<line x1="1646.0" y1="2230.5" x2="1646.0" y2="1254.5"/>
<line x1="2182.0" y1="2230.5" x2="2182.0" y2="1254.5"/>
<line x1="2718.0" y1="2230.5" x2="2718.0" y2="1254.5"/>
<line x1="3253.0" y1="2230.5" x2="3253.0" y2="1254.5"/>
<line x1="205.5" y1="2230.0" x2="3555.5" y2="2230.0"/>
<line x1="205.5" y1="2045.0" x2="3555.5" y2="2045.0"/>
<line x1="205.5" y1="1859.0" x2="3555.5" y2="1859.0"/>
<line x1="205.5" y1="1673.0" x2="3555.5" y2="1673.0"/>
<line x1="205.5" y1="1487.0" x2="3555.5" y2="1487.0"/>
<line x1="205.5" y1="1301.0" x2="3555.5" y2="1301.0"/>
</g>
<g stroke-width="4.17" stroke-dasharray="15.42 6.67">
<line x1="357.0" y1="2230.5" x2="357.0" y2="1254.5" stroke="#ffc0cb"/>
<line x1="858.0" y1="2230.5" x2="858.0" y2="1254.5" stroke="#ee82ee"/>
<line x1="1263.0" y1="2230.5" x2="1263.0" y2="1254.5" stroke="#a52a2a"/>
<line x1="1699.0" y1="2230.5" x2="1699.0" y2="1254.5" stroke="#0000ff"/>
<line x1="1822.0" y1="2230.5" x2="1822.0" y2="1254.5" stroke="#ffa500"/>
<line x1="2156.0" y1="2230.5" x2="2156.0" y2="1254.5" stroke="#87ceeb"/>
<line x1="2276.0" y1="2230.5" x2="2276.0" y2="1254.5" stroke="#ff0000"/>
<line x1="2361.0" y1="2230.5" x2="2361.0" y2="1254.5" stroke="#808080"/>
<line x1="2651.0" y1="2230.5" x2="2651.0" y2="1254.5" stroke="#008000"/>
</g>
</g>
<rect x="205.5" y="1254.5" width="3350.0" height="976.0" fill="none" stroke="#000" stroke-width="3.33"/>
<g stroke="#000" stroke-width="3.33">
<line x1="574.5" y1="2230.5" x2="574.5" y2="2245.08"/>
<line x1="1110.5" y1="2230.5" x2="1110.5" y2="2245.08"/>
<line x1="1646.5" y1="2230.5" x2="1646.5" y2="2245.08"/>
<line x1="2181.5" y1="2230.5" x2="2181.5" y2="2245.08"/>
<line x1="2717.5" y1="2230.5" x2="2717.5" y2="2245.08"/>
<line x1="3253.5" y1="2230.5" x2="3253.5" y2="2245.08"/>
<line x1="205.5" y1="2230.5" x2="190.92" y2="2230.5"/>
<line x1="205.5" y1="2044.5" x2="190.92" y2="2044.5"/>
<line x1="205.5" y1="1858.5" x2="190.92" y2="1858.5"/>
<line x1="205.5" y1="1673.5" x2="190.92" y2="1673.5"/>
<line x1="205.5" y1="1487.5" x2="190.92" y2="1487.5"/>
<line x1="205.5" y1="1301.5" x2="190.92" y2="1301.5"/>
</g>
<text class="l" x="574.5" y="2291.9" font-size="45.2" text-anchor="middle" textLength="75.5" lengthAdjust="spacingAndGlyphs">125</text>
<text class="l" x="1110.3" y="2291.9" font-size="45.2" text-anchor="middle" textLength="75.5" lengthAdjust="spacingAndGlyphs">130</text>
<text class="l" x="1646.1" y="2291.9" font-size="45.2" text-anchor="middle" textLength="75.5" lengthAdjust="spacingAndGlyphs">135</text>
<text class="l" x="2181.9" y="2291.9" font-size="45.2" text-anchor="middle" textLength="75.5" lengthAdjust="spacingAndGlyphs">140</text>
<text class="l" x="2717.7" y="2291.9" font-size="45.2" text-anchor="middle" textLength="75.5" lengthAdjust="spacingAndGlyphs">145</text>
<text class="l" x="3253.5" y="2291.9" font-size="45.2" text-anchor="middle" textLength="75.5" lengthAdjust="spacingAndGlyphs">150</text>
<text class="l" x="175.5" y="2245.7" font-size="45.2" text-anchor="end" textLength="25.2" lengthAdjust="spacingAndGlyphs">0</text>
<text class="l" x="175.5" y="2059.9" font-size="45.2" text-anchor="end" textLength="25.2" lengthAdjust="spacingAndGlyphs">5</text>
<text class="l" x="175.5" y="1874.1" font-size="45.2" text-anchor="end" textLength="50.4" lengthAdjust="spacingAndGlyphs">10</text>
<text class="l" x="175.5" y="1688.2" font-size="45.2" text-anchor="end" textLength="50.4" lengthAdjust="spacingAndGlyphs">15</text>
<text class="l" x="175.5" y="1502.4" font-size="45.2" text-anchor="end" textLength="50.4" lengthAdjust="spacingAndGlyphs">20</text>
<text class="l" x="175.5" y="1316.6" font-size="45.2" text-anchor="end" textLength="50.4" lengthAdjust="spacingAndGlyphs">25</text>
<text class="j" x="1880.5" y="2348.3" font-size="41.67" text-anchor="middle">経度</text>
<text class="j" transform="translate(99.4,1744.8) rotate(-90)" font-size="41.67" text-anchor="middle">頻度</text>
</svg></body></html>
